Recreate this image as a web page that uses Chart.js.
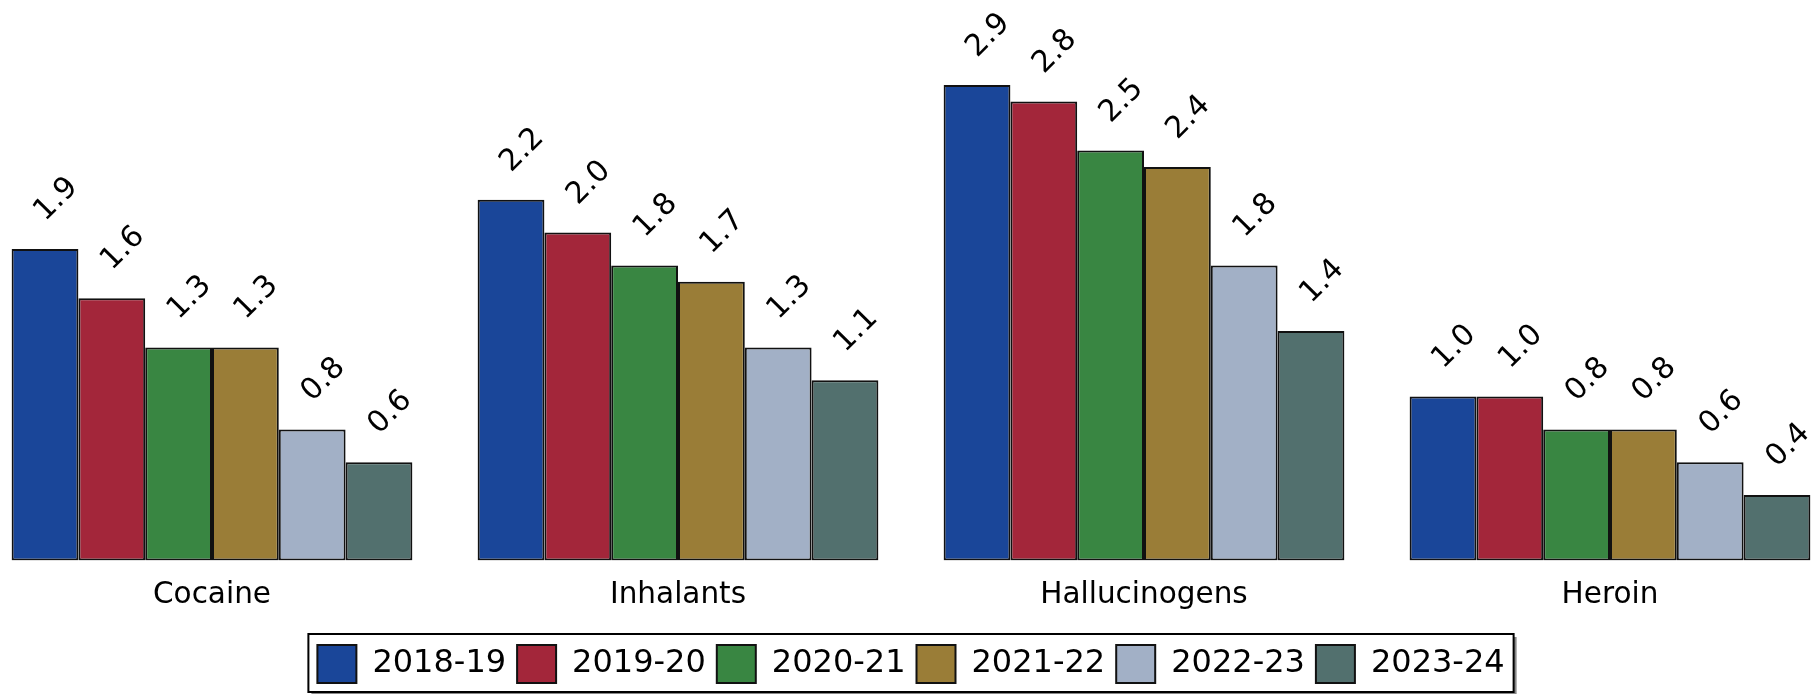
<!DOCTYPE html>
<html>
<head>
<meta charset="utf-8">
<script src="https://cdn.jsdelivr.net/npm/chart.js"></script>
<style>
  html, body { margin: 0; padding: 0; background: #fff; overflow: hidden; }
  #wrap { position: absolute; left: -21px; top: 0; width: 1864px; height: 694px; }
</style>
</head>
<body>
<div id="wrap"><canvas id="chart"></canvas></div>
<script>
// data
var categories = ['Cocaine', 'Inhalants', 'Hallucinogens', 'Heroin'];
var years = ['2018-19', '2019-20', '2020-21', '2021-22', '2022-23', '2023-24'];
var y2018 = [1.9, 2.2, 2.9, 1.0];
var y2019 = [1.6, 2.0, 2.8, 1.0];
var y2020 = [1.3, 1.8, 2.5, 0.8];
var y2021 = [1.3, 1.7, 2.4, 0.8];
var y2022 = [0.8, 1.3, 1.8, 0.6];
var y2023 = [0.6, 1.1, 1.4, 0.4];
var colors = ['#1a4699', '#a3263a', '#398642', '#9a7d37', '#a2b0c6', '#52706e'];

var series = [y2018, y2019, y2020, y2021, y2022, y2023];

// rotated value labels above each bar
var valueLabels = {
  id: 'valueLabels',
  afterDatasetsDraw: function(chart) {
    var ctx = chart.ctx;
    ctx.save();
    ctx.font = '30px "DejaVu Sans"';
    ctx.fillStyle = '#000';
    ctx.textAlign = 'center';
    ctx.textBaseline = 'middle';
    chart.data.datasets.forEach(function(ds, i) {
      chart.getDatasetMeta(i).data.forEach(function(bar, j) {
        ctx.save();
        ctx.translate(bar.x, bar.y);
        ctx.rotate(-Math.PI / 4);
        ctx.fillText(ds.data[j].toFixed(1), 43, -27);
        ctx.restore();
      });
    });
    ctx.restore();
  }
};

// framed box with shadow behind the legend
var legendFrame = {
  id: 'legendFrame',
  beforeDraw: function(chart) {
    var boxes = chart.legend.legendHitBoxes;
    if (!boxes || !boxes.length) return;
    var l = boxes[0].left, t = boxes[0].top;
    var r = l, b = t;
    boxes.forEach(function(h) {
      l = Math.min(l, h.left); t = Math.min(t, h.top);
      r = Math.max(r, h.left + h.width); b = Math.max(b, h.top + h.height);
    });
    var x = l - 9, y = t - 11, w = r - l + 18, h = b - t + 20;
    var ctx = chart.ctx;
    ctx.save();
    ctx.fillStyle = '#888';
    ctx.fillRect(x + 3, y + 3, w, h);
    ctx.fillStyle = '#fff';
    ctx.fillRect(x, y, w, h);
    ctx.lineWidth = 2;
    ctx.strokeStyle = '#000';
    ctx.strokeRect(x, y, w, h);
    ctx.restore();
  }
};

var chart = new Chart(document.getElementById('chart').getContext('2d'), {
  type: 'bar',
  data: {
    labels: categories,
    datasets: series.map(function(vals, i) {
      return {
        label: years[i],
        data: vals,
        backgroundColor: colors[i],
        borderColor: '#111',
        borderWidth: 2,
        borderSkipped: false
      };
    })
  },
  options: {
    responsive: true,
    maintainAspectRatio: false,
    animation: false,
    layout: { padding: { top: 3, left: 0, right: 0, bottom: 1 } },
    datasets: { bar: { categoryPercentage: 0.86, barPercentage: 1.0 } },
    scales: {
      x: {
        grid: { display: false, drawTicks: false },
        border: { display: false },
        ticks: { color: '#000', font: { family: 'DejaVu Sans', size: 29.5 }, padding: 17 },
        afterFit: function(s) { s.height += 4; }
      },
      y: {
        display: false,
        min: 0,
        max: 3.4
      }
    },
    plugins: {
      legend: {
        position: 'bottom',
        labels: {
          color: '#000',
          font: { family: 'DejaVu Sans', size: 32 },
          boxWidth: 39,
          boxHeight: 38,
          padding: 11
        }
      },
      tooltip: { enabled: false }
    }
  },
  plugins: [valueLabels, legendFrame]
});
</script>
</body>
</html>
